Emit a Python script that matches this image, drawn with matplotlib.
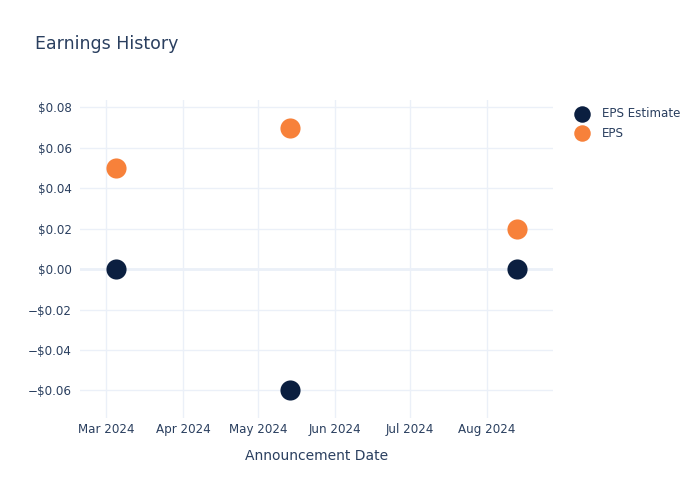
import matplotlib
matplotlib.use('Agg')
import matplotlib.pyplot as plt
import matplotlib.dates as mdates
import matplotlib.ticker as mticker
import numpy as np
import datetime as dt

# Data
dates = [dt.date(2024, 3, 5), dt.date(2024, 5, 14), dt.date(2024, 8, 13)]
eps_estimate = [0.0, -0.06, 0.0]
eps_actual = [0.05, 0.07, 0.02]

text_col = '#2a3f5f'
grid_col = '#ebf0f8'
navy = '#0b1f40'
orange = '#f7813a'

fig = plt.figure(figsize=(7, 5), dpi=100)
ax = fig.add_axes([80 / 700, 1 - 418 / 500, (553 - 80) / 700, (418 - 100) / 500])

ax.scatter(dates, eps_estimate, s=210, color=navy, label='EPS Estimate', zorder=3, linewidths=0)
ax.scatter(dates, eps_actual, s=210, color=orange, label='EPS', zorder=3, linewidths=0)

ax.set_xlim(dt.datetime(2024, 2, 19, 14), dt.datetime(2024, 8, 27, 12))
ax.set_ylim(-0.0736, 0.0836)
ax.yaxis.set_major_locator(mticker.MultipleLocator(0.02))

def money(v, pos):
    if abs(v) < 1e-9:
        return '$0.00'
    return ('\u2212' if v < 0 else '') + '${:.2f}'.format(abs(v))

ax.yaxis.set_major_formatter(mticker.FuncFormatter(money))
ax.xaxis.set_major_locator(mdates.MonthLocator())
ax.xaxis.set_major_formatter(mdates.DateFormatter('%b %Y'))

ax.grid(True, color=grid_col, linewidth=1)
ax.axhline(0, color=grid_col, linewidth=2, zorder=1)
ax.set_axisbelow(True)
for s in ax.spines.values():
    s.set_visible(False)
ax.tick_params(axis='y', length=0, labelsize=8.6, colors=text_col, pad=6)
ax.tick_params(axis='x', length=0, labelsize=8.6, colors=text_col, pad=3.7)

ax.set_xlabel('Announcement Date', fontsize=10, color=text_col, labelpad=9)
fig.text(35 / 700, 1 - 44 / 500, 'Earnings History', fontsize=12.5, color=text_col, va='center')

leg = ax.legend(loc='upper left', bbox_to_anchor=(1.013, 1.012), frameon=False,
                fontsize=8.6, labelcolor=text_col, handletextpad=0.7,
                labelspacing=0.55, markerscale=0.82)

fig.savefig('out.png', dpi=100)
